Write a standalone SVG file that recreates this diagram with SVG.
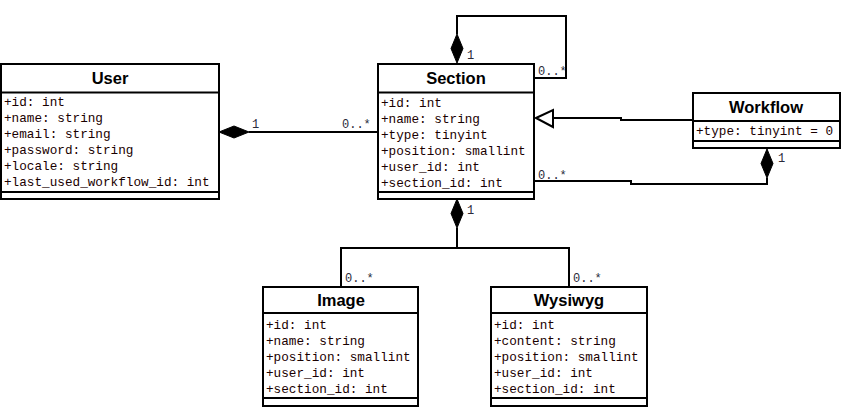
<svg xmlns="http://www.w3.org/2000/svg" width="844" height="409" viewBox="0 0 844 409">
<style>
.box{fill:#fff;stroke:#000;stroke-width:2}
.sep{stroke:#000;stroke-width:2}
.hd{font-family:"Liberation Sans",Arial,sans-serif;font-weight:bold;font-size:16.5px;text-anchor:middle;fill:#000}
.at{font-family:"Liberation Mono","Courier New",monospace;font-size:12.7px;fill:#1a0000}
.lb{font-family:"Liberation Mono","Courier New",monospace;font-size:12px;fill:#2a2a3a}
.ln{fill:none;stroke:#000;stroke-width:2}
.dm{fill:#000;stroke:#000;stroke-width:1}
.tri{fill:#fff;stroke:#000;stroke-width:2}
</style>
<rect width="844" height="409" fill="#fff"/>
<g id="connectors">
<path class="ln" d="M457,34 V16 H566 V78 H535"/>
<polygon class="dm" points="457,34 463,48.5 457,63 451,48.5"/>
<path class="ln" d="M249,132 H377"/>
<polygon class="dm" points="219,132 234,126 249,132 234,138"/>
<path class="ln" d="M692,120 H621 V118 H553"/>
<polygon class="tri" points="536,118 553,110 553,127"/>
<path class="ln" d="M767,178 V184 H631 V181 H535"/>
<polygon class="dm" points="767,149 773,163.5 767,178 761,163.5"/>
<path class="ln" d="M457,228 V248 M340,248 H570 M341,248 V286 M569,248 V286"/>
<polygon class="dm" points="457,199 463,213.5 457,228 451,213.5"/>
<text class="lb" x="252" y="128">1</text>
<text class="lb" x="342" y="128">0..*</text>
<text class="lb" x="467" y="59">1</text>
<text class="lb" x="538" y="75">0..*</text>
<text class="lb" x="778" y="162">1</text>
<text class="lb" x="538" y="179">0..*</text>
<text class="lb" x="467" y="214">1</text>
<text class="lb" x="345" y="282">0..*</text>
<text class="lb" x="573" y="282">0..*</text>
</g>
<g id="User">
<rect class="box" x="1" y="64" width="218" height="135"/>
<line class="sep" x1="1" y1="92.5" x2="219" y2="92.5"/>
<line class="sep" x1="1" y1="192" x2="219" y2="192"/>
<text class="hd" x="110" y="84">User</text>
<text class="at" x="4" y="106">+id: int</text>
<text class="at" x="4" y="122">+name: string</text>
<text class="at" x="4" y="138">+email: string</text>
<text class="at" x="4" y="154">+password: string</text>
<text class="at" x="4" y="170">+locale: string</text>
<text class="at" x="4" y="186">+last_used_workflow_id: int</text>
</g>
<g id="Section">
<rect class="box" x="378" y="64" width="156" height="135"/>
<line class="sep" x1="378" y1="92.5" x2="534" y2="92.5"/>
<line class="sep" x1="378" y1="192" x2="534" y2="192"/>
<text class="hd" x="456" y="84">Section</text>
<text class="at" x="381" y="107">+id: int</text>
<text class="at" x="381" y="123">+name: string</text>
<text class="at" x="381" y="139">+type: tinyint</text>
<text class="at" x="381" y="155">+position: smallint</text>
<text class="at" x="381" y="171">+user_id: int</text>
<text class="at" x="381" y="187">+section_id: int</text>
</g>
<g id="Workflow">
<rect class="box" x="693" y="93" width="147" height="55"/>
<line class="sep" x1="693" y1="121" x2="840" y2="121"/>
<line class="sep" x1="693" y1="141" x2="840" y2="141"/>
<text class="hd" x="766" y="113">Workflow</text>
<text class="at" x="696" y="135">+type: tinyint = 0</text>
</g>
<g id="Image">
<rect class="box" x="263" y="287" width="155" height="119"/>
<line class="sep" x1="263" y1="313" x2="418" y2="313"/>
<line class="sep" x1="263" y1="398" x2="418" y2="398"/>
<text class="hd" x="341" y="306">Image</text>
<text class="at" x="266" y="329">+id: int</text>
<text class="at" x="266" y="345">+name: string</text>
<text class="at" x="266" y="361">+position: smallint</text>
<text class="at" x="266" y="377">+user_id: int</text>
<text class="at" x="266" y="393">+section_id: int</text>
</g>
<g id="Wysiwyg">
<rect class="box" x="491" y="287" width="156" height="119"/>
<line class="sep" x1="491" y1="313" x2="647" y2="313"/>
<line class="sep" x1="491" y1="398" x2="647" y2="398"/>
<text class="hd" x="569" y="306">Wysiwyg</text>
<text class="at" x="494" y="329">+id: int</text>
<text class="at" x="494" y="345">+content: string</text>
<text class="at" x="494" y="361">+position: smallint</text>
<text class="at" x="494" y="377">+user_id: int</text>
<text class="at" x="494" y="393">+section_id: int</text>
</g>
</svg>
